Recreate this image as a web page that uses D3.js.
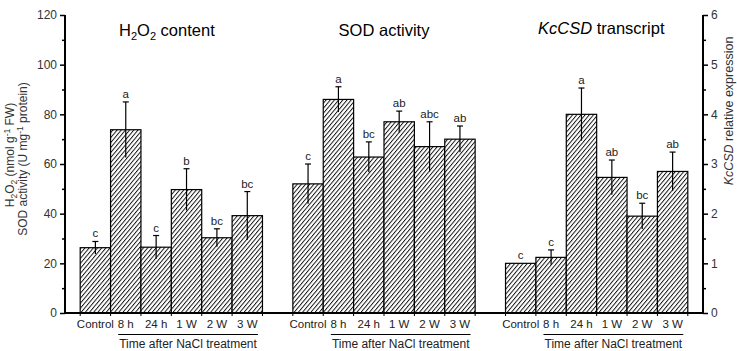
<!DOCTYPE html>
<html><head><meta charset="utf-8">
<script src="https://cdn.jsdelivr.net/npm/d3@7/dist/d3.min.js"></script>
<style>
html,body{margin:0;padding:0;background:#fff;}
svg{display:block;font-family:"Liberation Sans",Arial,sans-serif;}
</style></head>
<body>
<svg id="chart" width="737" height="351"></svg>
<script>
const categories = ["Control","8 h","24 h","1 W","2 W","3 W"];
const h2o2 = [26.3, 73.8, 26.5, 49.7, 30.3, 39.2];
const h2o2Err = [2.5, 11.2, 4.7, 8.4, 3.6, 9.7];
const h2o2Letters = ["c","a","c","b","bc","bc"];
const sod = [52.0, 86.0, 62.8, 77.0, 67.0, 70.0];
const sodErr = [8.0, 5.1, 6.1, 4.3, 10.0, 5.3];
const sodLetters = ["c","a","bc","ab","abc","ab"];
const kccsd = [1.0, 1.12, 4.0, 2.73, 1.95, 2.85];
const kccsdErr = [0, 0.15, 0.53, 0.35, 0.26, 0.39];
const kccsdLetters = ["c","c","a","ab","bc","ab"];
const leftTicks = [0,20,40,60,80,100,120];
const leftMinor = [10,30,50,70,90,110];
const rightTicks = [0,1,2,3,4,5,6];
const rightMinor = [0.5,1.5,2.5,3.5,4.5,5.5];
const xTitle = "Time after NaCl treatment";

const svg = d3.select("#chart");
const x = d3.scaleLinear().domain([0,21]).range([65,703]);
const yL = d3.scaleLinear().domain([0,120]).range([313,15]);
const yR = d3.scaleLinear().domain([0,6]).range([313,15]);

// hatch pattern
const defs = svg.append("defs");
const pat = defs.append("pattern").attr("id","hatch").attr("patternUnits","userSpaceOnUse")
  .attr("width",3.2).attr("height",10).attr("patternTransform","rotate(40)");
pat.append("rect").attr("width",3.2).attr("height",10).attr("fill","#fff");
pat.append("line").attr("x1",0.5).attr("x2",0.5).attr("y1",0).attr("y2",10)
  .attr("stroke","#000").attr("stroke-width",0.9);

const groups = [
  {vals:h2o2, err:h2o2Err, letters:h2o2Letters, y:yL},
  {vals:sod, err:sodErr, letters:sodLetters, y:yL},
  {vals:kccsd, err:kccsdErr, letters:kccsdLetters, y:yR}
];

groups.forEach((g,gi)=>{
  const G = svg.append("g");
  const data = categories.map((c,i)=>({c, v:g.vals[i], e:g.err[i], l:g.letters[i], s:gi*7+i+0.5}));
  G.selectAll("rect.bar").data(data).enter().append("rect").attr("class","bar")
    .attr("x",d=>x(d.s)).attr("width",d=>x(d.s+1)-x(d.s))
    .attr("y",d=>g.y(d.v)).attr("height",d=>g.y(0)-g.y(d.v))
    .attr("fill","url(#hatch)").attr("stroke","#000").attr("stroke-width",1.2);
  const eb = data.filter(d=>d.e>0);
  G.selectAll("line.eb").data(eb).enter().append("line")
    .attr("x1",d=>x(d.s+0.5)).attr("x2",d=>x(d.s+0.5))
    .attr("y1",d=>g.y(d.v-d.e)).attr("y2",d=>g.y(d.v+d.e))
    .attr("stroke","#000").attr("stroke-width",1.2);
  G.selectAll("line.cap").data(eb).enter().append("line")
    .attr("x1",d=>x(d.s+0.5)-3).attr("x2",d=>x(d.s+0.5)+3)
    .attr("y1",d=>g.y(d.v+d.e)).attr("y2",d=>g.y(d.v+d.e))
    .attr("stroke","#000").attr("stroke-width",1.2);
  G.selectAll("text.let").data(data).enter().append("text")
    .attr("x",d=>x(d.s+0.5)).attr("y",d=>g.y(d.v+d.e)-4)
    .attr("text-anchor","middle").attr("font-size",11.5).attr("fill","#222").text(d=>d.l);
  // x labels
  G.selectAll("text.xl").data(data).enter().append("text")
    .attr("x",d=>x(d.s+0.5)).attr("y",328)
    .attr("text-anchor","middle").attr("font-size",11.5).attr("fill","#222").text(d=>d.c);
  // small ticks at boundaries
  d3.range(7).forEach(k=>{
    G.append("line").attr("x1",x(gi*7+k+0.5)).attr("x2",x(gi*7+k+0.5))
     .attr("y1",313).attr("y2",316).attr("stroke","#000").attr("stroke-width",1);
  });
  // underline and title
  G.append("line").attr("x1",x(gi*7+1.75)).attr("x2",x(gi*7+6.35))
    .attr("y1",334.5).attr("y2",334.5).attr("stroke","#000").attr("stroke-width",1.2);
  G.append("text").attr("x",(x(gi*7+1.75)+x(gi*7+6.35))/2).attr("y",348)
    .attr("text-anchor","middle").attr("font-size",12).attr("fill","#222").text(xTitle);
});

// panel titles
const t1 = svg.append("text").attr("x",119).attr("y",36).attr("font-size",16.5);
t1.append("tspan").text("H");
t1.append("tspan").attr("font-size",11).attr("dy",4).text("2");
t1.append("tspan").attr("dy",-4).text("O");
t1.append("tspan").attr("font-size",11).attr("dy",4).text("2");
t1.append("tspan").attr("dy",-4).text(" content");
svg.append("text").attr("x",384).attr("y",36).attr("text-anchor","middle").attr("font-size",16.5).text("SOD activity");
const t3 = svg.append("text").attr("x",538).attr("y",34).attr("font-size",16.5);
t3.append("tspan").attr("font-style","italic").text("KcCSD");
t3.append("tspan").text(" transcript");

// axes
const axL = svg.append("g").attr("transform","translate(65,0)")
  .call(d3.axisLeft(yL).tickValues(leftTicks).tickSize(5).tickPadding(3).tickFormat(d3.format("d")));
const axLm = svg.append("g").attr("transform","translate(65,0)")
  .call(d3.axisLeft(yL).tickValues(leftMinor).tickSize(3).tickFormat(""));
const axR = svg.append("g").attr("transform","translate(703,0)")
  .call(d3.axisRight(yR).tickValues(rightTicks).tickSize(5).tickPadding(3).tickFormat(d3.format("d")));
const axRm = svg.append("g").attr("transform","translate(703,0)")
  .call(d3.axisRight(yR).tickValues(rightMinor).tickSize(3).tickFormat(""));
[axL,axLm,axR,axRm].forEach(a=>{
  a.select(".domain").remove();
  a.selectAll("line").attr("stroke","#000").attr("stroke-width",1.5);
  a.selectAll("text").attr("font-size",12).attr("fill","#333").attr("font-family","Liberation Sans, Arial, sans-serif");
});
svg.append("line").attr("x1",65).attr("x2",65).attr("y1",15).attr("y2",313.7).attr("stroke","#000").attr("stroke-width",2);
svg.append("line").attr("x1",703).attr("x2",703).attr("y1",15).attr("y2",313.7).attr("stroke","#000").attr("stroke-width",2);
svg.append("line").attr("x1",64).attr("x2",704).attr("y1",313).attr("y2",313).attr("stroke","#000").attr("stroke-width",2);

// y labels
const yl1 = svg.append("text").attr("transform","translate(14,155) rotate(-90)").attr("text-anchor","middle").attr("font-size",12).attr("fill","#333");
yl1.append("tspan").text("H");
yl1.append("tspan").attr("font-size",8.5).attr("dy",3).text("2");
yl1.append("tspan").attr("dy",-3).text("O");
yl1.append("tspan").attr("font-size",8.5).attr("dy",3).text("2");
yl1.append("tspan").attr("dy",-3).text(" (nmol g");
yl1.append("tspan").attr("font-size",8.5).attr("dy",-4).text("-1");
yl1.append("tspan").attr("dy",4).text(" FW)");
const yl2 = svg.append("text").attr("transform","translate(27,159) rotate(-90)").attr("text-anchor","middle").attr("font-size",12).attr("fill","#333");
yl2.append("tspan").text("SOD activity (U mg");
yl2.append("tspan").attr("font-size",8.5).attr("dy",-4).text("-1");
yl2.append("tspan").attr("dy",4).text(" protein)");
const yr = svg.append("text").attr("transform","translate(733,111) rotate(-90)").attr("text-anchor","middle").attr("font-size",12.5).attr("fill","#333");
yr.append("tspan").attr("font-style","italic").text("KcCSD");
yr.append("tspan").text(" relative expression");
</script>
</body></html>
